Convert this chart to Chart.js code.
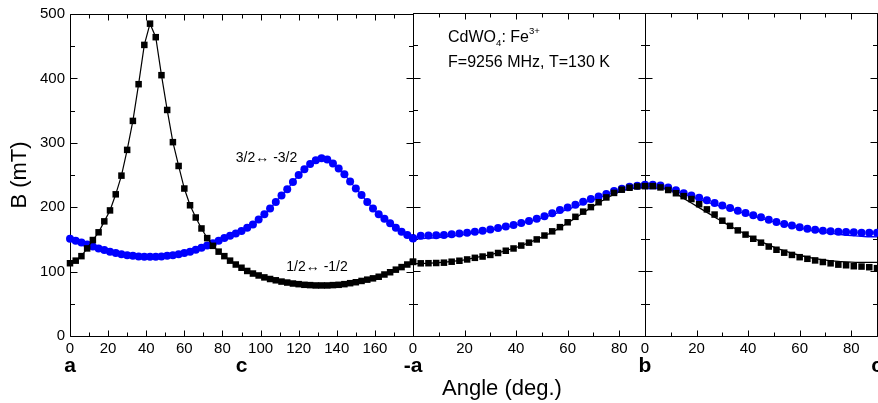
<!DOCTYPE html>
<html>
<head>
<meta charset="utf-8">
<title>CdWO4:Fe3+ angular dependence</title>
<script src="https://cdn.jsdelivr.net/npm/chart.js@4.4.1/dist/chart.umd.min.js"></script>
<style>
  html, body { margin: 0; padding: 0; background: #fff; }
  #wrap { position: relative; width: 878px; height: 403px; overflow: hidden; }
  #wrap canvas { position: absolute; top: 0; }
</style>
</head>
<body>
<div id="wrap">
  <canvas id="p1" width="425" height="403" style="left:0px"></canvas>
  <canvas id="p2" width="256" height="403" style="left:401px"></canvas>
  <canvas id="p3" width="256" height="403" style="left:633px"></canvas>
</div>
<script>
const FONT = "'Liberation Sans', Arial, Helvetica, sans-serif";
Chart.defaults.font.family = FONT;
Chart.defaults.color = '#000';

// measured angles (deg)
const angles180 = [0, 3, 6, 9, 12, 15, 18, 21, 24, 27, 30, 33, 36, 39, 42, 45, 48, 51, 54, 57,
  60, 63, 66, 69, 72, 75, 78, 81, 84, 87, 90, 93, 96, 99, 102, 105, 108, 111, 114, 117,
  120, 123, 126, 129, 132, 135, 138, 141, 144, 147, 150, 153, 156, 159, 162, 165, 168, 171, 174, 177, 180];
const angles90 = [0, 3, 6, 9, 12, 15, 18, 21, 24, 27, 30, 33, 36, 39, 42, 45, 48, 51, 54, 57,
  60, 63, 66, 69, 72, 75, 78, 81, 84, 87, 90];
const fitAngles = [0, 5, 10, 15, 20, 25, 30, 35, 40, 45, 50, 55, 60, 65, 70, 75, 80, 85, 90];

// plane a-c (0..180) : B in mT
const black1 = [113, 117, 124, 136, 149, 161, 178, 195, 220, 249,
  289, 334, 391, 452, 485, 464, 405, 351, 301, 264,
  229, 203, 184, 167, 152, 140, 131, 124, 117, 111,
  106, 101, 97, 94, 91, 88.5, 86.5, 84.5, 83, 81.5,
  80.5, 79.5, 79, 78.5, 78.5, 78.5, 79, 79.5, 80.5, 82,
  83.5, 85.5, 87.5, 89.5, 92, 95.5, 99, 103, 107, 111, 115];
const blue1 = [151, 148, 145, 142, 139, 136, 133.5, 131, 129, 127,
  125.5, 124.5, 123.5, 123, 123, 123, 123.5, 124.5, 125.5, 127,
  129, 131, 134, 137, 140.5, 144, 148, 152, 155.5, 159,
  163, 168, 173, 181, 189, 198, 208, 218, 228, 239,
  250, 259, 267, 273, 276, 274, 268, 260, 251, 240,
  229, 219, 208, 198, 189, 182, 175, 168, 162, 157, 152];

// plane -a..b (0..90)
const black2 = [115, 112.5, 112.7, 113, 113.5, 115, 116.5, 118.5, 121, 123,
  125.5, 128.5, 132, 135.5, 140, 144.5, 149.5, 155.5, 162, 168.5,
  176, 184.5, 192.5, 199.5, 207, 214.5, 221.5, 226.5, 229.5, 231.5, 232.5];
const blue2 = [151, 155, 155.5, 156, 156.5, 157.5, 158.5, 160, 161.5, 163,
  165, 167, 169.5, 172, 175, 178, 181.5, 185.5, 190, 195,
  199, 203, 208, 212, 216, 220, 224.5, 228, 231, 232.5, 233.5];
const black2Fit = [112, 112.5, 113.5, 115.5, 118, 122, 126, 131, 137, 144.5,
  153, 163, 175, 188, 201, 213, 223, 229, 231];
const blue2Fit = [150, 151, 152.5, 154.5, 157, 160, 163.5, 167.5, 172, 177,
  182.5, 189, 196, 203.5, 211, 218, 224, 228, 229.5];

// plane b..c (0..90)
const black3 = [232, 232, 230, 226, 221, 216.5, 212, 204, 196, 188,
  178.5, 170.5, 163.5, 157, 150.5, 144.5, 138.5, 133.5, 129, 125.5,
  122, 119.5, 117, 114.5, 112.5, 110.5, 109.5, 108, 107.5, 106.5, 105];
const blue3 = [234, 234, 233, 230, 225.5, 221, 217.5, 214, 210, 206,
  202, 198, 194, 190.5, 187, 184, 180, 176.5, 173.5, 171,
  168.5, 166, 164.5, 163, 162, 161.5, 161, 160.5, 160, 160, 160];
const black3Fit = [231, 230.5, 225, 213, 201, 189, 177, 166, 155.5, 146,
  137.5, 130.5, 125, 120.5, 117.5, 115.5, 114.5, 114, 114];
const blue3Fit = [228, 228, 226, 220, 213, 206, 200, 194, 188, 182,
  176.5, 171.5, 167, 163, 160, 157.5, 155.5, 154, 153.5];

// tick labels
const yTicks = [0, 100, 200, 300, 400, 500];
const xTicks180 = [0, 20, 40, 60, 80, 100, 120, 140, 160];
const xTicks90 = [0, 20, 40, 60, 80];
const axisPos1 = [0, 90], axisNames1 = ['a', 'c'];
const axisPos2 = [0, 90], axisNames2 = ['-a', 'b'];
const axisPos3 = [90], axisNames3 = ['c'];

const pts = (xs, ys) => ys.map((v, i) => ({x: xs[i], y: v}));

function markers(xs, ys, color, style, r, line) {
  return {
    data: pts(xs, ys), pointStyle: style, pointRadius: r, pointHoverRadius: r,
    backgroundColor: color, borderColor: color, pointBorderWidth: 0,
    showLine: !!line, borderWidth: 1.2, tension: 0, clip: false
  };
}
function fitLine(xs, ys, color) {
  return {
    data: pts(xs, ys), pointRadius: 0, borderColor: color, borderWidth: 1.3,
    showLine: true, cubicInterpolationMode: 'monotone', clip: false
  };
}

// frame with inward ticks
const framePlugin = {
  id: 'frame',
  beforeDatasetsDraw(chart, args, opts) {
    const {ctx, chartArea: a} = chart;
    const x = chart.scales.x, y = chart.scales.y;
    const L = Math.round(a.left) + 0.5, R = Math.round(a.right) + 0.5;
    const T = Math.round(a.top) + 0.5, B = Math.round(a.bottom) + 0.5;
    ctx.save();
    ctx.strokeStyle = '#000';
    ctx.lineWidth = 1;
    ctx.beginPath();
    ctx.moveTo(R, T); ctx.lineTo(L, T); ctx.lineTo(L, B); ctx.lineTo(R, B);
    if (opts.right) { ctx.moveTo(R, T); ctx.lineTo(R, B); }
    for (let v = x.min; v <= x.max + 1e-6; v += 10) {
      const px = Math.round(x.getPixelForValue(v)) + 0.5;
      const len = v % 20 === 0 ? 6 : 4;
      ctx.moveTo(px, B); ctx.lineTo(px, B - len);
      ctx.moveTo(px, T); ctx.lineTo(px, T + len);
    }
    for (let v = y.min; v <= y.max + 1e-6; v += 50) {
      const py = Math.round(y.getPixelForValue(v)) + 0.5;
      const len = v % 100 === 0 ? 7 : 4.5;
      ctx.moveTo(L, py); ctx.lineTo(L + len, py);
      ctx.moveTo(R, py); ctx.lineTo(R - len, py);
    }
    ctx.stroke();
    ctx.restore();
  }
};

function drawRich(ctx, x, y, parts, size) {
  let cx = x;
  parts.forEach(p => {
    const small = p.sub || p.sup;
    const s = small ? size * 0.6 : size;
    ctx.font = s + 'px ' + FONT;
    const dy = p.sub ? size * 0.32 : p.sup ? -size * 0.42 : 0;
    ctx.fillText(p.t, cx, y + dy);
    cx += ctx.measureText(p.t).width;
  });
}

// text labels placed in data coordinates, captions in pixels from the plot area
const notesPlugin = {
  id: 'notes',
  afterDatasetsDraw(chart, args, opts) {
    const {ctx, chartArea: a} = chart;
    const x = chart.scales.x, y = chart.scales.y;
    ctx.save();
    ctx.fillStyle = '#000';
    ctx.textAlign = 'left';
    ctx.textBaseline = 'middle';
    (opts.items || []).forEach(n => {
      drawRich(ctx, x.getPixelForValue(n.x), y.getPixelForValue(n.y), n.parts, n.size);
    });
    (opts.captions || []).forEach(c => {
      ctx.font = c.size + 'px ' + FONT;
      ctx.textAlign = 'center';
      ctx.textBaseline = 'alphabetic';
      ctx.fillText(c.text, a.left + c.dx, a.top + c.dy);
    });
    ctx.restore();
  }
};

function panel(id, cfg) {
  const yAxis = cfg.yAxis ? {
    min: 0, max: 500,
    grid: {display: false, drawTicks: false}, border: {display: false},
    afterBuildTicks: s => { s.ticks = yTicks.map(v => ({value: v})); },
    afterFit: s => { s.width = 70; },
    ticks: {padding: 5, font: {size: 15}},
    title: {display: true, text: 'B (mT)', font: {size: 22}, padding: {top: 7, bottom: 0}}
  } : {min: 0, max: 500, display: false};

  return new Chart(document.getElementById(id), {
    type: 'scatter',
    data: {datasets: cfg.datasets},
    options: {
      responsive: false,
      animation: false,
      events: [],
      layout: {padding: cfg.padding},
      plugins: {
        legend: {display: false},
        tooltip: {enabled: false},
        frame: {right: cfg.right},
        notes: {items: cfg.notes || [], captions: cfg.captions || []}
      },
      scales: {
        x: {
          type: 'linear', min: 0, max: cfg.max,
          grid: {display: false, drawTicks: false}, border: {display: false},
          afterBuildTicks: s => { s.ticks = cfg.ticks.map(v => ({value: v})); },
          afterFit: s => { s.height = 20; },
          ticks: {padding: 4, font: {size: 15}, maxRotation: 0, autoSkip: false}
        },
        axes: {
          type: 'linear', position: 'bottom', weight: 1, min: 0, max: cfg.max,
          grid: {display: false, drawTicks: false}, border: {display: false},
          afterBuildTicks: s => { s.ticks = cfg.axisPos.map(v => ({value: v})); },
          afterFit: s => { s.height = 26; },
          ticks: {
            padding: 0, font: {size: 21, weight: 'bold', lineHeight: 1}, maxRotation: 0, autoSkip: false,
            align: cfg.axisAlign || 'center',
            callback: (v, i) => cfg.axisNames[i]
          }
        },
        y: yAxis
      }
    },
    plugins: [framePlugin, notesPlugin]
  });
}

panel('p1', {
  max: 180, ticks: xTicks180, axisPos: axisPos1, axisNames: axisNames1, yAxis: true,
  padding: {left: 0, right: 12, top: 13, bottom: 21},
  datasets: [
    markers(angles180, black1, '#000000', 'rect', 4.6, true),
    markers(angles180, blue1, '#0000ff', 'circle', 4, true)
  ],
  notes: [
    {x: 87, y: 276, size: 14, parts: [{t: '3/2\u2194 -3/2'}]},
    {x: 113.5, y: 107, size: 14, parts: [{t: '1/2\u2194 -1/2'}]}
  ]
});

panel('p2', {
  max: 90, ticks: xTicks90, axisPos: axisPos2, axisNames: axisNames2,
  padding: {left: 12, right: 12, top: 13, bottom: 21},
  datasets: [
    markers(angles90, black2, '#000000', 'rect', 4.6, false),
    markers(angles90, blue2, '#0000ff', 'circle', 4, false),
    fitLine(fitAngles, black2Fit, '#000000'),
    fitLine(fitAngles, blue2Fit, '#0000ff')
  ],
  notes: [
    {x: 13.6, y: 461.5, size: 16, parts: [{t: 'CdWO'}, {t: '4', sub: true}, {t: ': Fe'}, {t: '3+', sup: true}]},
    {x: 13.6, y: 423, size: 16, parts: [{t: 'F=9256 MHz, T=130 K'}]}
  ],
  captions: [{text: 'Angle (deg.)', size: 22, dx: 89, dy: 382}]
});

panel('p3', {
  max: 90, ticks: xTicks90, axisPos: axisPos3, axisNames: axisNames3, right: true,
  padding: {left: 12, right: 12, top: 13, bottom: 21},
  datasets: [
    markers(angles90, black3, '#000000', 'rect', 4.6, false),
    markers(angles90, blue3, '#0000ff', 'circle', 4, false),
    fitLine(fitAngles, black3Fit, '#000000'),
    fitLine(fitAngles, blue3Fit, '#0000ff')
  ]
});
</script>
</body>
</html>
